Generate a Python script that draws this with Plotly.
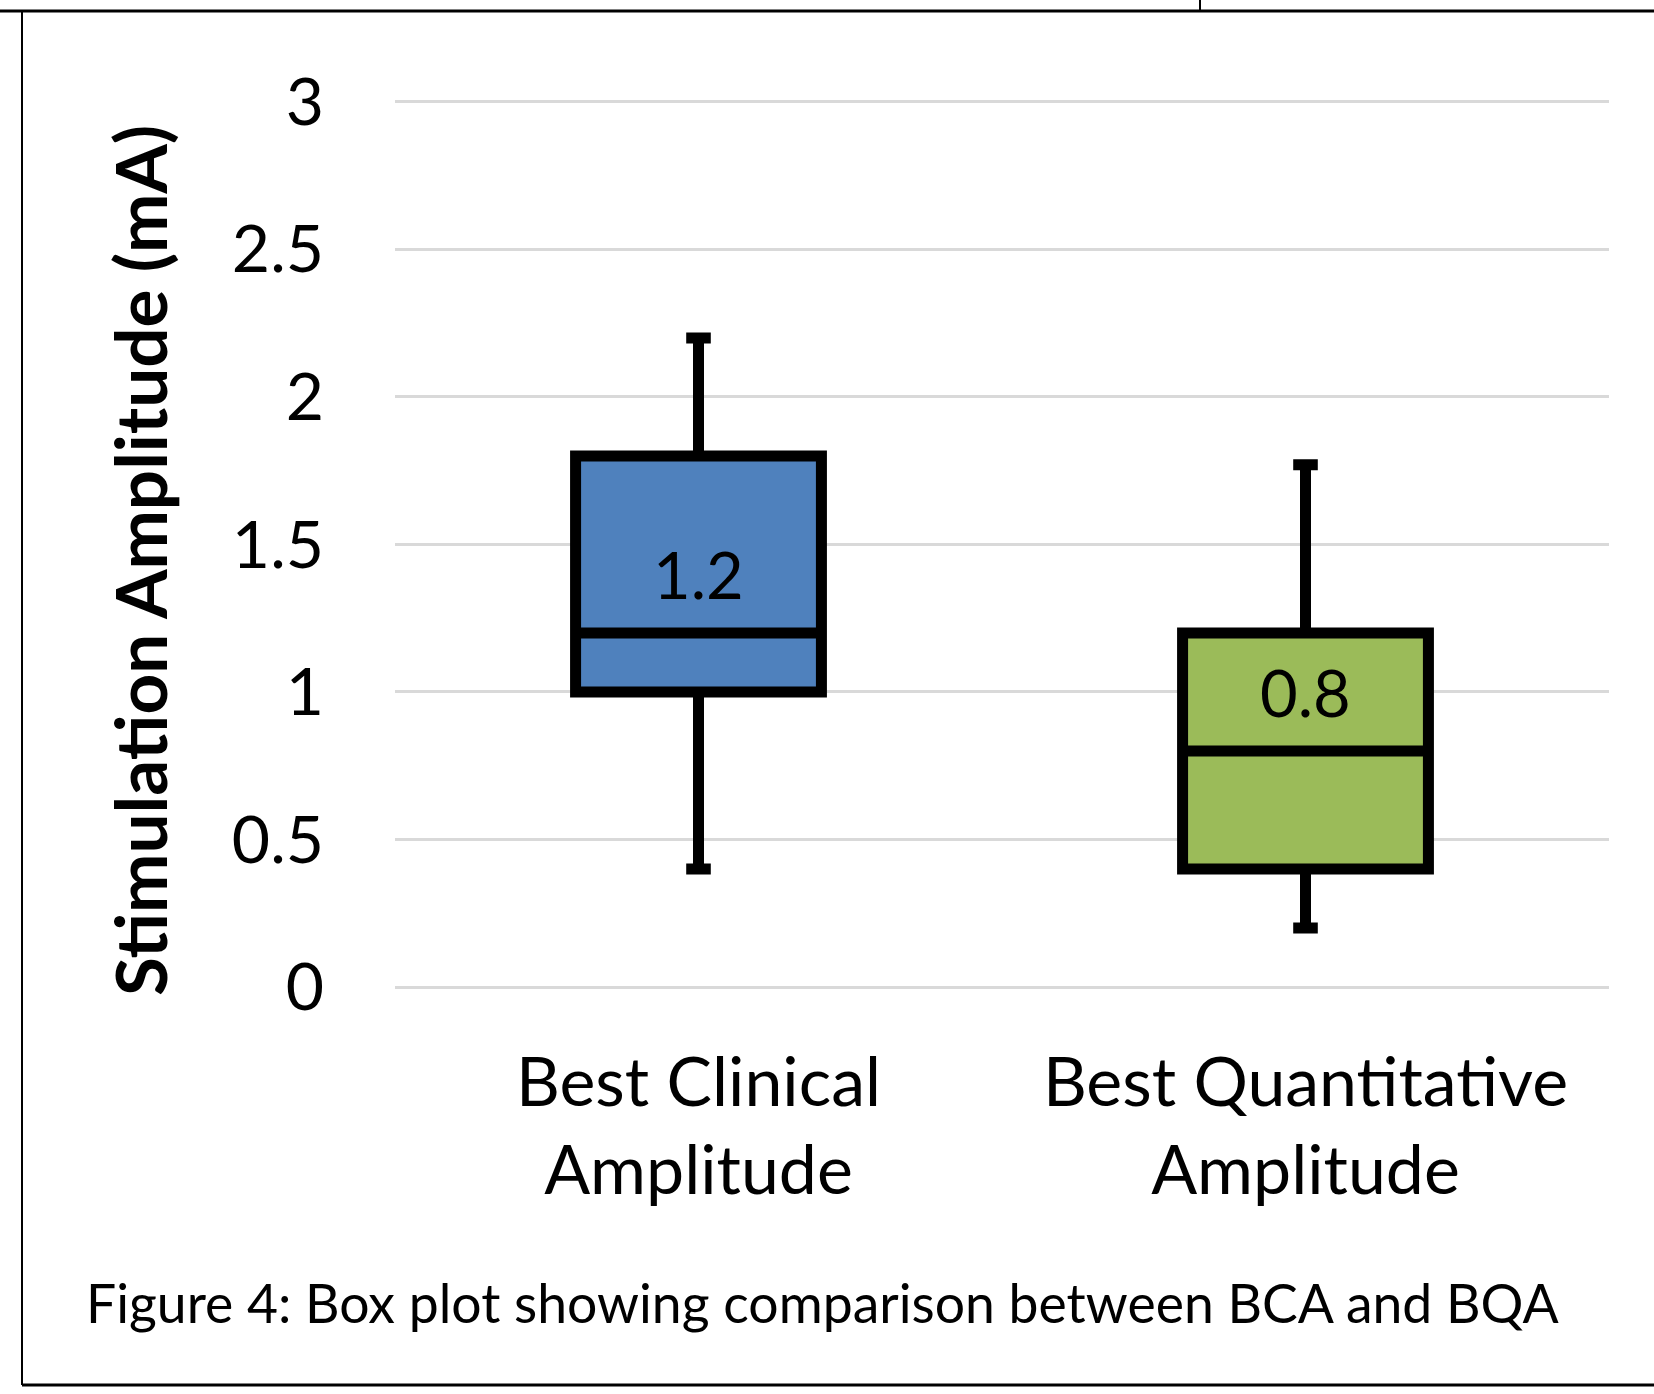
import plotly.graph_objects as go

# box statistics
categories = ["Best Clinical<br>Amplitude", "Best Quantitative<br>Amplitude"]
lower = [0.4, 0.2]
q1 = [1.0, 0.4]
median = [1.2, 0.8]
q3 = [1.8, 1.2]
upper = [2.2, 1.77]
fill_colors = ["#4f81bd", "#9bbb59"]
y_ticks = [0, 0.5, 1, 1.5, 2, 2.5, 3]
y_tick_text = ["0", "0.5", "1", "1.5", "2", "2.5", "3"]

W, H = 1654, 1394
Y_TOP = 3.03
# y=0 sits at 987 px, y=3 at 102 px
PH = round(885 * Y_TOP / 3)
L, R = 395, 45
B = H - 987
T = H - B - PH
PW = W - L - R
FONT = "Lato"


def px_x(px):
    return (px - L) / PW


def px_y(py):
    return (H - B - py) / PH


fig = go.Figure()
for i, cat in enumerate(categories):
    fig.add_trace(go.Box(
        x=[cat],
        q1=[q1[i]], median=[median[i]], q3=[q3[i]],
        lowerfence=[lower[i]], upperfence=[upper[i]],
        fillcolor=fill_colors[i],
        line=dict(color="black", width=11),
        width=0.405,
        whiskerwidth=0.1,
        boxpoints=False,
        hoverinfo="skip",
    ))
    fig.add_annotation(
        x=cat, y=median[i] + 0.2, text=str(median[i]),
        showarrow=False, yanchor="middle",
        font=dict(family=FONT, size=65, color="black"),
    )

fig.update_layout(
    width=W, height=H,
    margin=dict(l=L, r=R, t=T, b=B),
    plot_bgcolor="white",
    paper_bgcolor="white",
    showlegend=False,
    font=dict(family=FONT, color="black"),
)
fig.update_xaxes(
    type="category",
    categoryorder="array", categoryarray=categories,
    range=[-0.5, 1.5],
    showgrid=False, showline=False, zeroline=False,
    tickfont=dict(family=FONT, size=68, color="black"),
    ticklabelstandoff=50,
)
fig.update_yaxes(
    range=[0, Y_TOP],
    tickvals=y_ticks, ticktext=y_tick_text,
    showgrid=True, gridcolor="#d9d9d9", gridwidth=3,
    zeroline=True, zerolinecolor="#d9d9d9", zerolinewidth=3,
    showline=False,
    tickfont=dict(family=FONT, size=66, color="black"),
    ticklabelstandoff=70,
)

# axis title
fig.add_annotation(
    text="<b>Stimulation Amplitude (mA)</b>", textangle=-90,
    xref="paper", yref="paper", x=px_x(139), y=px_y(561),
    xanchor="center", yanchor="middle", showarrow=False,
    font=dict(family=FONT, size=71, color="black"),
)
# caption
fig.add_annotation(
    text="Figure 4: Box plot showing comparison between BCA and BQA",
    xref="paper", yref="paper", x=px_x(84), y=px_y(1302),
    xanchor="left", yanchor="middle", showarrow=False,
    font=dict(family=FONT, size=53.5, color="black"),
)

# page frame lines
frame = [
    (0, 11, W, 11, 3),
    (1200, 0, 1200, 11, 2),
    (22, 11, 22, 1385, 2),
    (22, 1385, W, 1385, 3),
]
for x0, y0, x1, y1, w in frame:
    fig.add_shape(type="line", xref="paper", yref="paper",
                  x0=px_x(x0), y0=px_y(y0), x1=px_x(x1), y1=px_y(y1),
                  line=dict(color="black", width=w))

fig.write_html("out.html", config={"displayModeBar": False},
               post_script="document.body.style.margin='0';")
